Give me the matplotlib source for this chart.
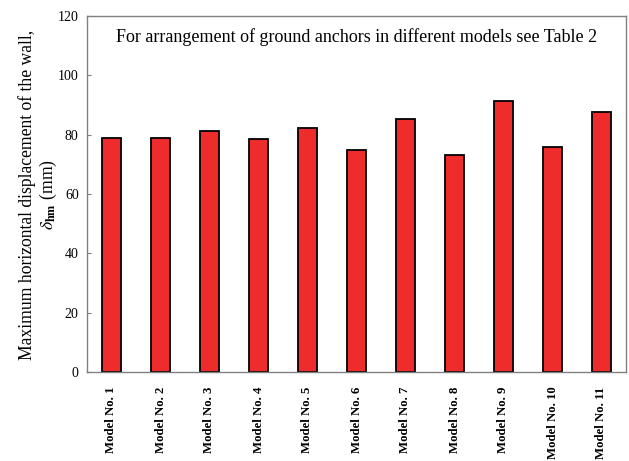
import matplotlib
matplotlib.use('Agg')
import matplotlib.pyplot as plt
import numpy as np

models = ['Model No. 1', 'Model No. 2', 'Model No. 3', 'Model No. 4', 'Model No. 5',
          'Model No. 6', 'Model No. 7', 'Model No. 8', 'Model No. 9', 'Model No. 10',
          'Model No. 11']
displacement = [79.0, 79.0, 81.2, 78.6, 82.1, 74.9, 85.4, 73.0, 91.4, 75.7, 87.5]
y_ticks = [0, 20, 40, 60, 80, 100, 120]

plt.rcParams['font.family'] = ['Liberation Serif', 'DejaVu Serif']
plt.rcParams['mathtext.fontset'] = 'stix'

fig = plt.figure(figsize=(6.29, 4.61), dpi=100)
ax = fig.add_axes([87 / 629, 1 - 372 / 461, 539 / 629, 356 / 461])

x = np.arange(len(models))
ax.bar(x, displacement, width=0.40, color='#ee2c2c', edgecolor='black', linewidth=1.3)

ax.set_xlim(-0.5, len(models) - 0.5)
ax.set_ylim(0, 120)
ax.set_yticks(y_ticks)
ax.set_yticklabels([str(v) for v in y_ticks], fontsize=10)
ax.set_xticks(x)
ax.set_xticklabels(models, rotation=90, fontsize=9.2, fontweight='bold')
ax.tick_params(axis='x', length=0, pad=10.5)
ax.tick_params(axis='y', direction='in', length=3, color='#808080', pad=6)

for s in ax.spines.values():
    s.set_color('#808080')
    s.set_linewidth(1)

ax.text(0.5, 0.941, 'For arrangement of ground anchors in different models see Table 2',
        transform=ax.transAxes, ha='center', va='center', fontsize=13)

fig.text(27 / 629, 1 - 195 / 461, 'Maximum horizontal displacement of the wall,',
         rotation=90, ha='center', va='center', fontsize=12.7)
fig.text(48 / 629, 1 - 195 / 461, r'$\delta_{\mathbf{hm}}$ (mm)',
         rotation=90, ha='center', va='center', fontsize=12.7)

fig.savefig('out.png', dpi=100)
